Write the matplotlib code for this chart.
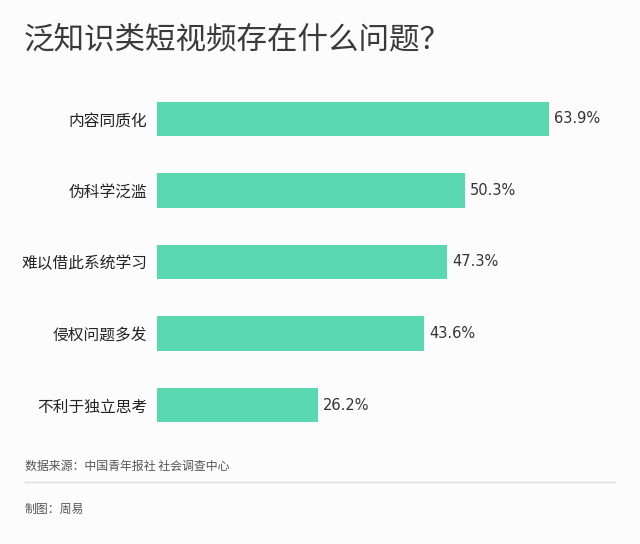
import matplotlib.pyplot as plt

plt.rcParams['font.family'] = ['Noto Sans CJK SC', 'DejaVu Sans']

categories = ['内容同质化', '伪科学泛滥', '难以借此系统学习', '侵权问题多发', '不利于独立思考']
values = [63.9, 50.3, 47.3, 43.6, 26.2]
value_labels = ['63.9%', '50.3%', '47.3%', '43.6%', '26.2%']

W, H = 640, 544
fig = plt.figure(figsize=(6.4, 5.44), dpi=100)
fig.patch.set_facecolor('#fcfcfd')

# axes placed in pixel terms of the reference
left, right = 157, 640
top, bottom = 83, 441
ax = fig.add_axes([left / W, 1 - bottom / H, (right - left) / W, (bottom - top) / H])
ax.set_facecolor('none')

pos = list(range(len(categories)))
ax.barh(pos, values, height=0.48, color='#5ad8b0')
ax.set_xlim(0, (right - left) / 6.13)
ax.set_ylim(len(categories) - 0.5, -0.5)
for s in ax.spines.values():
    s.set_visible(False)
ax.set_xticks([])
ax.set_yticks(pos)
ax.set_yticklabels(categories, fontsize=11.3, color='#222222')
ax.tick_params(axis='y', length=0, pad=7)

for p, v, lab in zip(pos, values, value_labels):
    ax.text(v + 0.8, p, lab, va='center', ha='left', fontsize=10.5,
            color='#333333', family=['DejaVu Sans'])

fig.text(24 / W, 1 - 40 / H, '泛知识类短视频存在什么问题？', fontsize=22,
         color='#3a3a3a', va='center', ha='left', fontweight=500)

fig.text(25 / W, 1 - 466 / H, '数据来源：中国青年报社 社会调查中心', fontsize=8.6,
         color='#555555', va='center', ha='left')
fig.add_artist(plt.Line2D([25 / W, 615 / W], [1 - 482 / H, 1 - 482 / H],
                          color='#e0e0e4', lw=1))
fig.text(25 / W, 1 - 509 / H, '制图：周易', fontsize=8.6,
         color='#555555', va='center', ha='left')

fig.savefig('out.png', dpi=100, facecolor=fig.get_facecolor())
